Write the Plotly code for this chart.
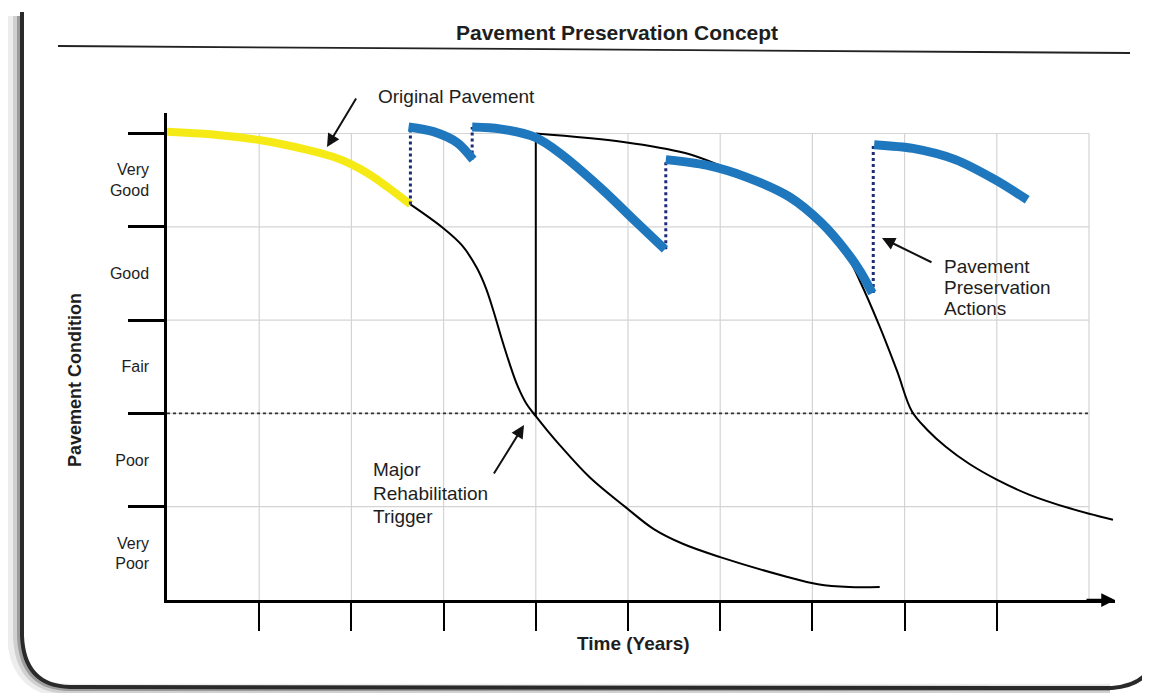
import plotly.graph_objects as go

# ---------------- data ----------------
condition_levels = [1, 2, 3, 4, 5]
condition_labels = ["Very<br>Poor", "Poor", "Fair", "Good", "Very<br>Good"]
condition_label_pos = [0.5, 1.5, 2.5, 3.5, 4.5]
year_ticks = [1, 2, 3, 4, 5, 6, 7, 8, 9]
year_grid = [1, 2, 3, 4, 5, 6, 7, 8, 9, 10]
trigger_level = 2.0
trigger_span = [0.0, 10.0]

# original pavement (yellow)
orig_t = [0.0, 0.5, 1.0, 1.5, 1.8, 2.0, 2.2, 2.4, 2.64]
orig_c = [5.02, 4.99, 4.93, 4.83, 4.75, 4.67, 4.56, 4.42, 4.24]

# deterioration without preservation (black)
decline_t = [2.64, 2.99, 3.2, 3.36, 3.46, 3.54, 3.63, 3.72, 3.8, 3.9, 4.0, 4.13, 4.26, 4.59, 4.98,
             5.28, 5.6, 6.0, 6.72, 7.06, 7.4, 7.73]
decline_c = [4.24, 3.99, 3.80, 3.56, 3.34, 3.1, 2.8, 2.52, 2.3, 2.1, 1.97, 1.81, 1.66, 1.31, 0.99,
             0.76, 0.6, 0.46, 0.25, 0.17, 0.14, 0.14]

# major rehabilitation jump and subsequent deterioration (black)
rehab_jump_t = [4.0, 4.0]
rehab_jump_c = [1.97, 5.0]
rehab_t = [4.0, 4.95, 5.62, 6.07, 6.75, 7.10, 7.33, 7.51, 7.73, 7.92, 8.08, 8.25, 8.45, 8.7, 9.0,
           9.35, 9.8, 10.26]
rehab_c = [5.0, 4.91, 4.79, 4.63, 4.36, 4.07, 3.78, 3.43, 2.93, 2.45, 2.02, 1.82, 1.64, 1.46, 1.29,
           1.13, 0.98, 0.86]

# preservation segments (blue)
pres1_t = [2.62, 2.89, 3.15, 3.32]
pres1_c = [5.07, 5.02, 4.90, 4.72]
pres2_t = [3.31, 3.61, 3.99, 4.26, 4.70, 5.08, 5.40]
pres2_c = [5.07, 5.05, 4.96, 4.79, 4.42, 4.06, 3.76]
pres3_t = [5.41, 5.85, 6.29, 6.75, 7.10, 7.38, 7.52, 7.65]
pres3_c = [4.72, 4.66, 4.53, 4.32, 4.04, 3.72, 3.52, 3.29]
pres4_t = [7.67, 8.09, 8.55, 8.99, 9.33]
pres4_c = [4.88, 4.84, 4.72, 4.50, 4.29]

# preservation actions (dotted jumps)
action_t = [2.64, 3.31, 5.41, 7.66]
action_from = [4.24, 4.72, 3.76, 3.29]
action_to = [5.07, 5.07, 4.72, 4.88]

# ---------------- layout helpers ----------------
OFF = 8                      # page body margin in the browser
SCREEN_W, SCREEN_H = 1150, 693
W, H = SCREEN_W - OFF, SCREEN_H - OFF
PLOT_L, PLOT_R, PLOT_T, PLOT_B = 167, 1115, 113, 600   # plot area in screen pixels
PW, PH = PLOT_R - PLOT_L, PLOT_B - PLOT_T
ML, MT = PLOT_L - OFF, PLOT_T - OFF
MR, MB = W - ML - PW, H - MT - PH
XMAX = PW / 92.2
YMAX = PH / 93.3


def PX(px):
    return (px - PLOT_L) / PW


def PY(py):
    return (PLOT_B - py) / PH


def DX(px):
    return PX(px) * XMAX


def DY(py):
    return PY(py) * YMAX


FONT = "Liberation Sans, Arial, sans-serif"
TXT = "#1e1e1e"
BLUE = "#1f78bd"
YELLOW = "#f6ea16"
NAVY = "#1d2b78"

fig = go.Figure()

# trigger line
fig.add_trace(go.Scatter(x=trigger_span, y=[trigger_level, trigger_level], mode="lines",
                         line=dict(color="#333333", width=1.8, dash="dot"), hoverinfo="skip"))

# black curves
fig.add_trace(go.Scatter(x=decline_t, y=decline_c, mode="lines",
                         line=dict(color="black", width=2, shape="spline", smoothing=1.0)))
fig.add_trace(go.Scatter(x=rehab_jump_t, y=rehab_jump_c, mode="lines",
                         line=dict(color="black", width=2)))
fig.add_trace(go.Scatter(x=rehab_t, y=rehab_c, mode="lines",
                         line=dict(color="black", width=2, shape="spline", smoothing=1.0)))

# original pavement
fig.add_trace(go.Scatter(x=orig_t, y=orig_c, mode="lines",
                         line=dict(color=YELLOW, width=8, shape="spline", smoothing=1.0)))

# preservation action jumps
for t, a, b in zip(action_t, action_from, action_to):
    fig.add_trace(go.Scatter(x=[t, t], y=[a, b], mode="lines",
                             line=dict(color=NAVY, width=3, dash="dot")))

# preservation segments
for xs, ys in [(pres1_t, pres1_c), (pres2_t, pres2_c), (pres3_t, pres3_c), (pres4_t, pres4_c)]:
    fig.add_trace(go.Scatter(x=xs, y=ys, mode="lines",
                             line=dict(color=BLUE, width=9, shape="spline", smoothing=0.8)))

shapes = []
# grid
for t in year_grid:
    shapes.append(dict(type="line", xref="x", yref="y", x0=t, x1=t, y0=0, y1=condition_levels[-1],
                       line=dict(color="#d4d4d4", width=1.2), layer="below"))
for c in condition_levels:
    shapes.append(dict(type="line", xref="x", yref="y", x0=0, x1=year_grid[-1], y0=c, y1=c,
                       line=dict(color="#d4d4d4", width=1.2), layer="below"))

# title rule
shapes.append(dict(type="line", xref="paper", yref="paper", x0=PX(58), y0=PY(46), x1=PX(1130), y1=PY(53),
                   line=dict(color="#222222", width=1.8)))


def path(points_cmds):
    out = []
    for cmd, pts in points_cmds:
        out.append(cmd + " " + " ".join(f"{PX(a):.5f},{PY(b):.5f}" for a, b in pts))
    return " ".join(out)


# scanned frame: soft shadow + dark border
for wdt, col, dx in [(14, "rgba(0,0,0,0.07)", 8), (8, "rgba(0,0,0,0.12)", 5), (4, "rgba(0,0,0,0.25)", 3)]:
    sh = path([("M", [(22 - dx, 16)]), ("L", [(22 - dx, 636)]), ("Q", [(24 - dx, 688 + dx / 3), (70, 688 + dx / 3)]),
               ("L", [(1110, 688 + dx / 3)])])
    shapes.append(dict(type="path", xref="paper", yref="paper", path=sh, line=dict(color=col, width=wdt)))
border = path([("M", [(22, 12)]), ("L", [(22, 636)]), ("Q", [(24, 686), (70, 687)]), ("L", [(1112, 688)]),
               ("Q", [(1136, 686), (1146, 674)])])
shapes.append(dict(type="path", xref="paper", yref="paper", path=border,
                   line=dict(color="#2a2a2a", width=4)))

annotations = []
annotations.append(dict(xref="paper", yref="paper", x=PX(617), y=PY(32), text="<b>Pavement Preservation Concept</b>",
                        showarrow=False, xanchor="center", yanchor="middle", font=dict(family=FONT, size=21, color=TXT)))
annotations.append(dict(xref="paper", yref="paper", x=PX(376), y=PY(97), text="Original Pavement",
                        showarrow=False, xanchor="left", yanchor="middle", font=dict(family=FONT, size=19, color=TXT)))
for line, py in zip(["Major", "Rehabilitation", "Trigger"], [470, 493, 516]):
    annotations.append(dict(xref="paper", yref="paper", x=PX(371), y=PY(py), text=line,
                            showarrow=False, xanchor="left", yanchor="middle", font=dict(family=FONT, size=19, color=TXT)))
for line, py in zip(["Pavement", "Preservation", "Actions"], [266, 287, 308]):
    annotations.append(dict(xref="paper", yref="paper", x=PX(942), y=PY(py), text=line,
                            showarrow=False, xanchor="left", yanchor="middle", font=dict(family=FONT, size=19, color=TXT)))
annotations.append(dict(xref="paper", yref="paper", x=PX(633), y=PY(643), text="<b>Time (Years)</b>",
                        showarrow=False, xanchor="center", yanchor="middle", font=dict(family=FONT, size=19, color=TXT)))
annotations.append(dict(xref="paper", yref="paper", x=PX(75), y=PY(380), text="<b>Pavement Condition</b>", textangle=-90,
                        showarrow=False, xanchor="center", yanchor="middle", font=dict(family=FONT, size=18, color=TXT)))

# arrows
arrow_style = dict(showarrow=True, arrowhead=2, arrowsize=1.3, arrowwidth=2, arrowcolor="#111111", text="",
                   xref="x", yref="y", axref="pixel", ayref="pixel", standoff=0)
annotations.append(dict(x=DX(327), y=DY(147), ax=30, ay=-50, **arrow_style))
annotations.append(dict(x=DX(524), y=DY(425), ax=-31, ay=50, **arrow_style))
annotations.append(dict(x=DX(882), y=DY(238), ax=51, ay=25, **arrow_style))
# x-axis arrow head
annotations.append(dict(x=XMAX, y=0, ax=-30, ay=0, showarrow=True, arrowhead=2, arrowsize=1.1, arrowwidth=2.5,
                        arrowcolor="black", text="", xref="x", yref="y", axref="pixel", ayref="pixel", standoff=0))

fig.update_layout(
    width=W, height=H,
    margin=dict(l=ML, r=MR, t=MT, b=MB),
    paper_bgcolor="white", plot_bgcolor="white",
    showlegend=False,
    shapes=shapes,
    annotations=annotations,
    xaxis=dict(range=[0, XMAX], showline=True, linecolor="black", linewidth=2.5, ticks="outside",
               tickvals=year_ticks, ticklen=28, tickwidth=2, tickcolor="black", showticklabels=False,
               showgrid=False, zeroline=False, fixedrange=True),
    yaxis=dict(range=[0, YMAX], showline=True, linecolor="black", linewidth=2.5, ticks="",
               tickvals=condition_label_pos, ticktext=condition_labels, ticklabelstandoff=12,
               tickfont=dict(family=FONT, size=16, color=TXT), showgrid=False, zeroline=False, fixedrange=True,
               minor=dict(tickvals=condition_levels, ticks="outside", ticklen=36, tickwidth=2.5,
                          tickcolor="black", showgrid=False)),
)

fig.write_html("out.html")
